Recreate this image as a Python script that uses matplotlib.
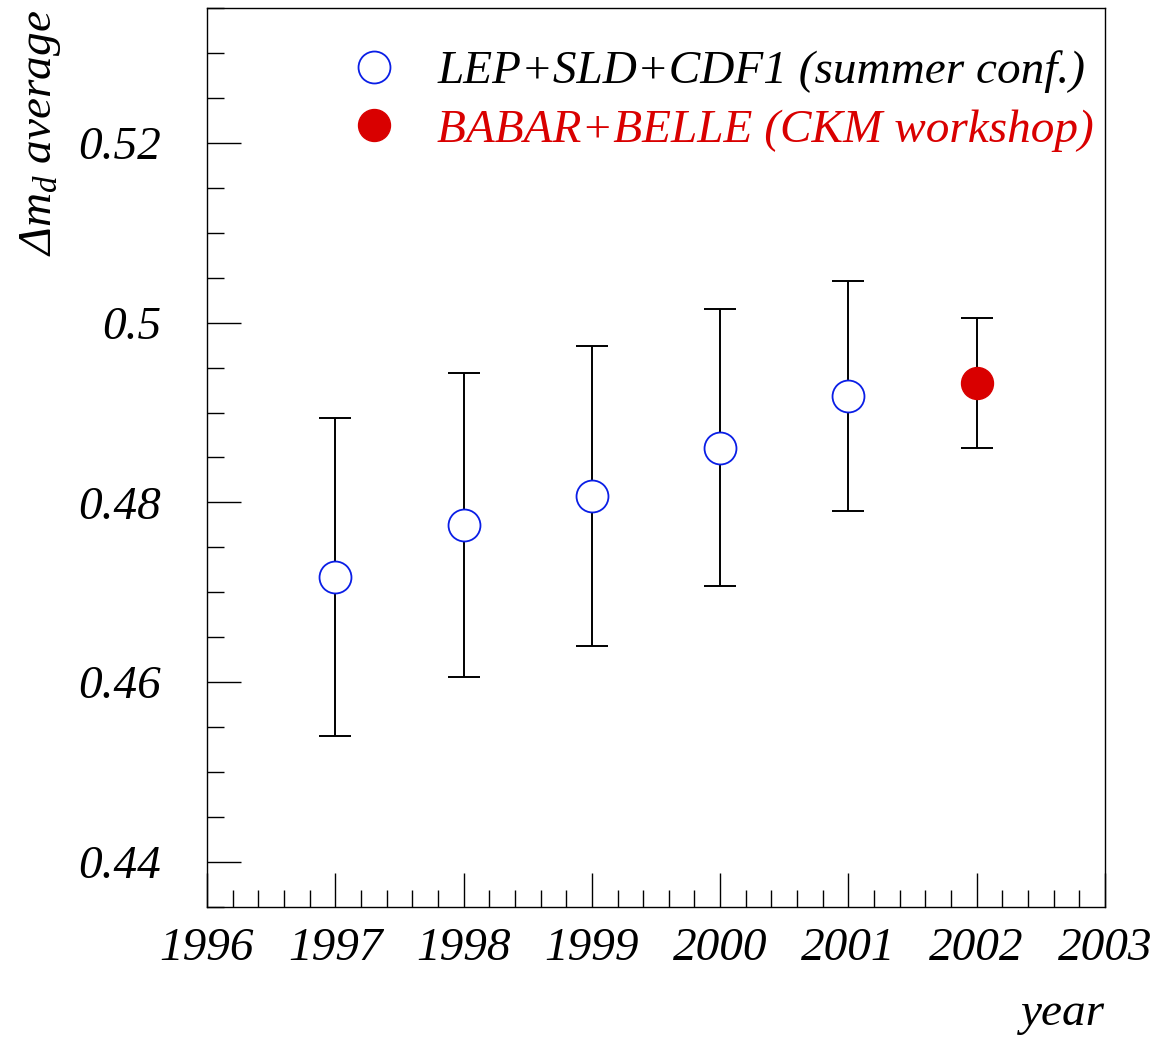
import numpy as np
import matplotlib.pyplot as plt
from matplotlib.ticker import MultipleLocator

plt.rcParams['font.family'] = ['Liberation Serif', 'DejaVu Serif']
plt.rcParams['font.style'] = 'italic'
plt.rcParams['mathtext.fontset'] = 'custom'
plt.rcParams['mathtext.rm'] = 'Liberation Serif'
plt.rcParams['mathtext.it'] = 'Liberation Serif:italic'

# data
years_lep = [1997, 1998, 1999, 2000, 2001]
dmd_lep = [0.4717, 0.4775, 0.4807, 0.4861, 0.4918]
err_lep = [0.0177, 0.0169, 0.0167, 0.0154, 0.0128]

years_b = [2002]
dmd_b = [0.4933]
err_b = [0.0072]

label_lep = "LEP+SLD+CDF1 (summer conf.)"
label_b = "BABAR+BELLE (CKM workshop)"

fs = 34

fig = plt.figure(figsize=(11.6, 10.39), dpi=100)
ax = fig.add_axes([0.17845, 0.12705, 0.77414, 0.86525])

# error bars
ax.errorbar(years_lep, dmd_lep, yerr=err_lep, fmt='none', ecolor='black',
            elinewidth=1.4, capsize=11.5, capthick=1.4, zorder=2)
ax.errorbar(years_b, dmd_b, yerr=err_b, fmt='none', ecolor='black',
            elinewidth=1.4, capsize=11.5, capthick=1.4, zorder=2)

# markers
ax.plot(years_lep, dmd_lep, 'o', ms=23, mfc='white', mec='#0a1ee6', mew=1.3,
        zorder=3, label=label_lep)
ax.plot(years_b, dmd_b, 'o', ms=23, mfc='#d90000', mec='#d90000', mew=1.0,
        zorder=3, label=label_b)

ax.set_xlim(1996, 2003)
ax.set_ylim(0.435, 0.535)

ax.xaxis.set_major_locator(MultipleLocator(1))
ax.xaxis.set_minor_locator(MultipleLocator(0.2))
ax.yaxis.set_major_locator(MultipleLocator(0.02))
ax.yaxis.set_minor_locator(MultipleLocator(0.005))
ax.xaxis.set_major_formatter(plt.FuncFormatter(lambda v, p: f"{v:.0f}"))
ax.yaxis.set_major_formatter(plt.FuncFormatter(lambda v, p: f"{v:g}"))

ax.tick_params(which='both', direction='in', top=False, right=False,
               width=1.0, color='black')
ax.tick_params(which='major', length=24.5, labelsize=fs)
ax.tick_params(which='minor', length=12)
ax.tick_params(axis='y', which='major', pad=33)
ax.tick_params(axis='x', which='major', pad=15)
for s in ax.spines.values():
    s.set_linewidth(1.0)

ax.text(1.0, -0.131, "year", transform=ax.transAxes, ha='right',
        va='baseline', fontsize=fs)
fig.text(0.035, 0.99, r"$\Delta m_d$ average", rotation=90, ha='center',
         va='top', fontsize=fs)

leg = ax.legend(loc='upper left', bbox_to_anchor=(0.097, 0.99), frameon=False,
                fontsize=fs, handletextpad=0.33, labelspacing=0.33,
                borderaxespad=0.3)
leg.get_texts()[1].set_color('#d90000')

fig.savefig('out.png', dpi=100)
